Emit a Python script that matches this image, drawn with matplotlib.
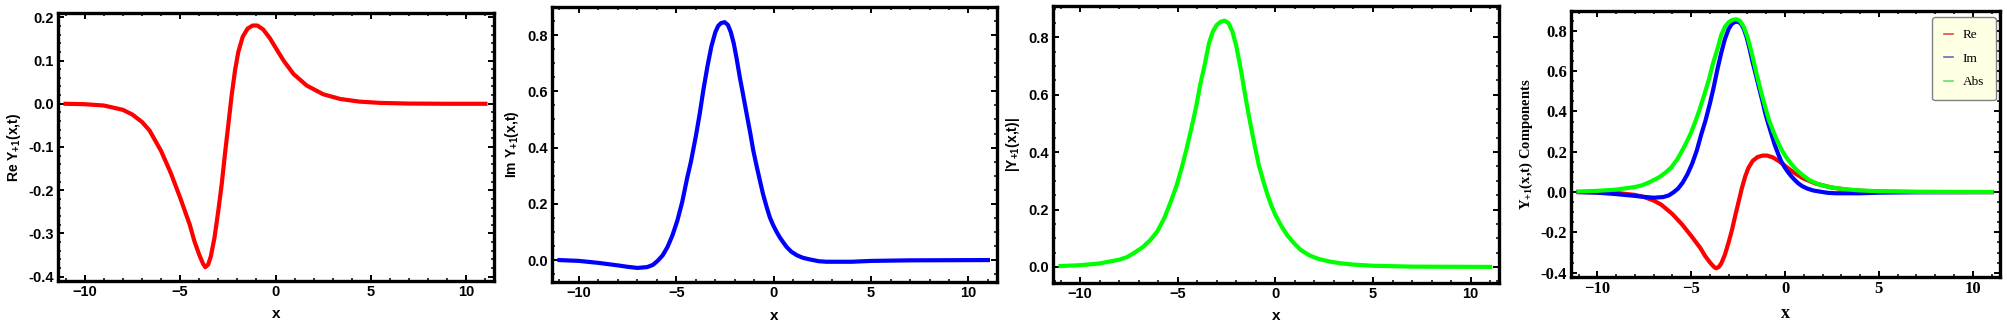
import matplotlib
matplotlib.use("Agg")
import matplotlib.pyplot as plt
from matplotlib.ticker import MultipleLocator, FormatStrFormatter
from matplotlib.lines import Line2D

# ---------------- data ----------------
re_x = [-11, -10, -9, -8, -7.5, -7, -6.6, -6, -5.5, -5, -4.5, -4.25, -4, -3.8, -3.68,
        -3.53, -3.39, -3.2, -3.0, -2.82, -2.65, -2.47, -2.3, -2.12, -1.95, -1.72,
        -1.46, -1.2, -0.95, -0.65, -0.3, 0, 0.42, 0.94, 1.64, 2.5, 3.4, 4.4, 5.5, 7, 9, 11]
re_y = [0.0, -0.001, -0.004, -0.014, -0.025, -0.042, -0.062, -0.109, -0.159, -0.217,
        -0.279, -0.318, -0.349, -0.37, -0.378, -0.372, -0.353, -0.31, -0.248, -0.186,
        -0.116, -0.047, 0.019, 0.078, 0.12, 0.155, 0.174, 0.181, 0.181, 0.172, 0.152,
        0.13, 0.1, 0.069, 0.042, 0.022, 0.011, 0.005, 0.002, 0.0005, 0.0, 0.0]

im_x = [-11, -10, -9, -8, -7.5, -7, -6.5, -6.2, -5.95, -5.7, -5.45, -5.2, -4.95, -4.7,
        -4.45, -4.25, -4.0, -3.8, -3.6, -3.4, -3.2, -3.0, -2.85, -2.7, -2.52, -2.35,
        -2.2, -2.05, -1.9, -1.74, -1.55, -1.39, -1.2, -1.05, -0.88, -0.71, -0.55, -0.36,
        -0.2, -0.02, 0.15, 0.32, 0.5, 0.67, 0.9, 1.19, 1.5, 1.87, 2.3, 2.7, 4.0, 5, 7, 11]
im_y = [0.0, -0.003, -0.01, -0.019, -0.024, -0.028, -0.025, -0.017, -0.002, 0.017,
        0.047, 0.088, 0.14, 0.206, 0.29, 0.35, 0.44, 0.52, 0.61, 0.69, 0.76, 0.81,
        0.833, 0.843, 0.846, 0.836, 0.81, 0.77, 0.715, 0.65, 0.58, 0.52, 0.45, 0.39,
        0.335, 0.283, 0.235, 0.188, 0.152, 0.123, 0.1, 0.08, 0.062, 0.046, 0.03, 0.017,
        0.008, 0.002, -0.004, -0.006, -0.006, -0.003, -0.001, 0.0]

abs_x = [-11, -10, -9, -8.7, -8, -7.6, -7.2, -6.75, -6.4, -6.05, -5.7, -5.35, -5.05,
         -4.8, -4.55, -4.3, -4.05, -3.85, -3.6, -3.4, -3.2, -3.0, -2.8, -2.6, -2.4,
         -2.2, -2.0, -1.75, -1.5, -1.3, -1.05, -0.85, -0.6, -0.4, -0.2, 0, 0.3, 0.6,
         0.95, 1.3, 1.75, 2.2, 2.75, 3.3, 4, 5, 7, 11]
abs_y = [0.003, 0.006, 0.012, 0.016, 0.025, 0.034, 0.05, 0.071, 0.094, 0.123, 0.168,
         0.228, 0.285, 0.344, 0.41, 0.483, 0.56, 0.634, 0.71, 0.779, 0.82, 0.843, 0.854,
         0.858, 0.85, 0.82, 0.77, 0.681, 0.58, 0.506, 0.42, 0.355, 0.295, 0.251, 0.213,
         0.181, 0.143, 0.111, 0.083, 0.059, 0.04, 0.028, 0.019, 0.013, 0.008, 0.004,
         0.001, 0.0]

legend_labels = ["Re", "Im", "Abs"]
ylabels = [r"Re Y$_{+1}$(x,t)", r"Im Y$_{+1}$(x,t)", r"|Y$_{+1}$(x,t)|",
           r"Y$_{+1}$(x,t) Components"]

# ---------------- figure ----------------
SANS = "Liberation Sans"
SERIF = "Liberation Serif"
plt.rcParams["mathtext.default"] = "regular"
plt.rcParams["font.family"] = SANS
plt.rcParams["font.weight"] = "bold"
plt.rcParams["axes.labelweight"] = "bold"

fig = plt.figure(figsize=(20.07, 3.28), dpi=100)

rects = [
    (58 / 2007, 1 - 281 / 328, 436 / 2007, 268 / 328),
    (551.7 / 2007, 1 - 282 / 328, 445 / 2007, 275 / 328),
    (1052.7 / 2007, 1 - 282.7 / 328, 446.3 / 2007, 276.7 / 328),
    (1571 / 2007, 1 - 276.7 / 328, 429 / 2007, 266 / 328),
]
ylims = [(-0.41, 0.21), (-0.078, 0.90), (-0.055, 0.909), (-0.42, 0.90)]
ymaj = [0.1, 0.2, 0.2, 0.2]
ymin = [0.02, 0.05, 0.05, 0.05]

RED, BLUE, GREEN = "#ff0000", "#0000ff", "#00ff00"
LW = 3.0

axes = []
for i, r in enumerate(rects):
    ax = fig.add_axes(r)
    axes.append(ax)
    fam = SERIF if i == 3 else SANS
    ax.set_xlim(-11.4, 11.45)
    ax.set_ylim(*ylims[i])
    ax.xaxis.set_major_locator(MultipleLocator(5))
    ax.xaxis.set_minor_locator(MultipleLocator(1))
    ax.yaxis.set_major_locator(MultipleLocator(ymaj[i]))
    ax.yaxis.set_minor_locator(MultipleLocator(ymin[i]))
    ax.yaxis.set_major_formatter(FormatStrFormatter("%.1f"))
    ax.tick_params(which="both", direction="in", top=True, right=True, color="black",
                   labelfontfamily=fam, labelsize=10.5 if i < 3 else 12)
    ax.tick_params(which="major", length=4, width=1.4, pad=3)
    ax.tick_params(which="minor", length=2.2, width=1.1)
    for sp in ax.spines.values():
        sp.set_linewidth(2.4)
        sp.set_color("black")
    ax.set_xlabel("x", fontfamily=fam, fontweight="bold",
                  fontsize=11 if i < 3 else 13, labelpad=6)
    ax.set_ylabel(ylabels[i], fontfamily=fam, fontweight="bold",
                  fontsize=10 if i < 3 else 10.5, labelpad=4)

axes[0].plot(re_x, re_y, color=RED, lw=LW)
axes[1].plot(im_x, im_y, color=BLUE, lw=LW)
axes[2].plot(abs_x, abs_y, color=GREEN, lw=LW)

ax4 = axes[3]
ax4.plot(re_x, re_y, color=RED, lw=LW)
ax4.plot(im_x, im_y, color=BLUE, lw=LW)
ax4.plot(abs_x, abs_y, color=GREEN, lw=LW)

handles = [Line2D([], [], color=c, lw=1.2) for c in ("#e04848", "#6868c8", "#68e068")]
leg = ax4.legend(handles, legend_labels, loc="upper right",
                 bbox_to_anchor=(0.99, 0.975), borderaxespad=0,
                 prop={"family": SERIF, "size": 9.5, "weight": "normal"},
                 handlelength=0.7, handletextpad=0.7, labelspacing=0.85, borderpad=0.9,
                 fancybox=True, framealpha=1.0)
leg.get_frame().set_facecolor("#ffffe4")
leg.get_frame().set_edgecolor("#808080")
leg.get_frame().set_linewidth(1.0)

fig.savefig("out.png", dpi=100)
